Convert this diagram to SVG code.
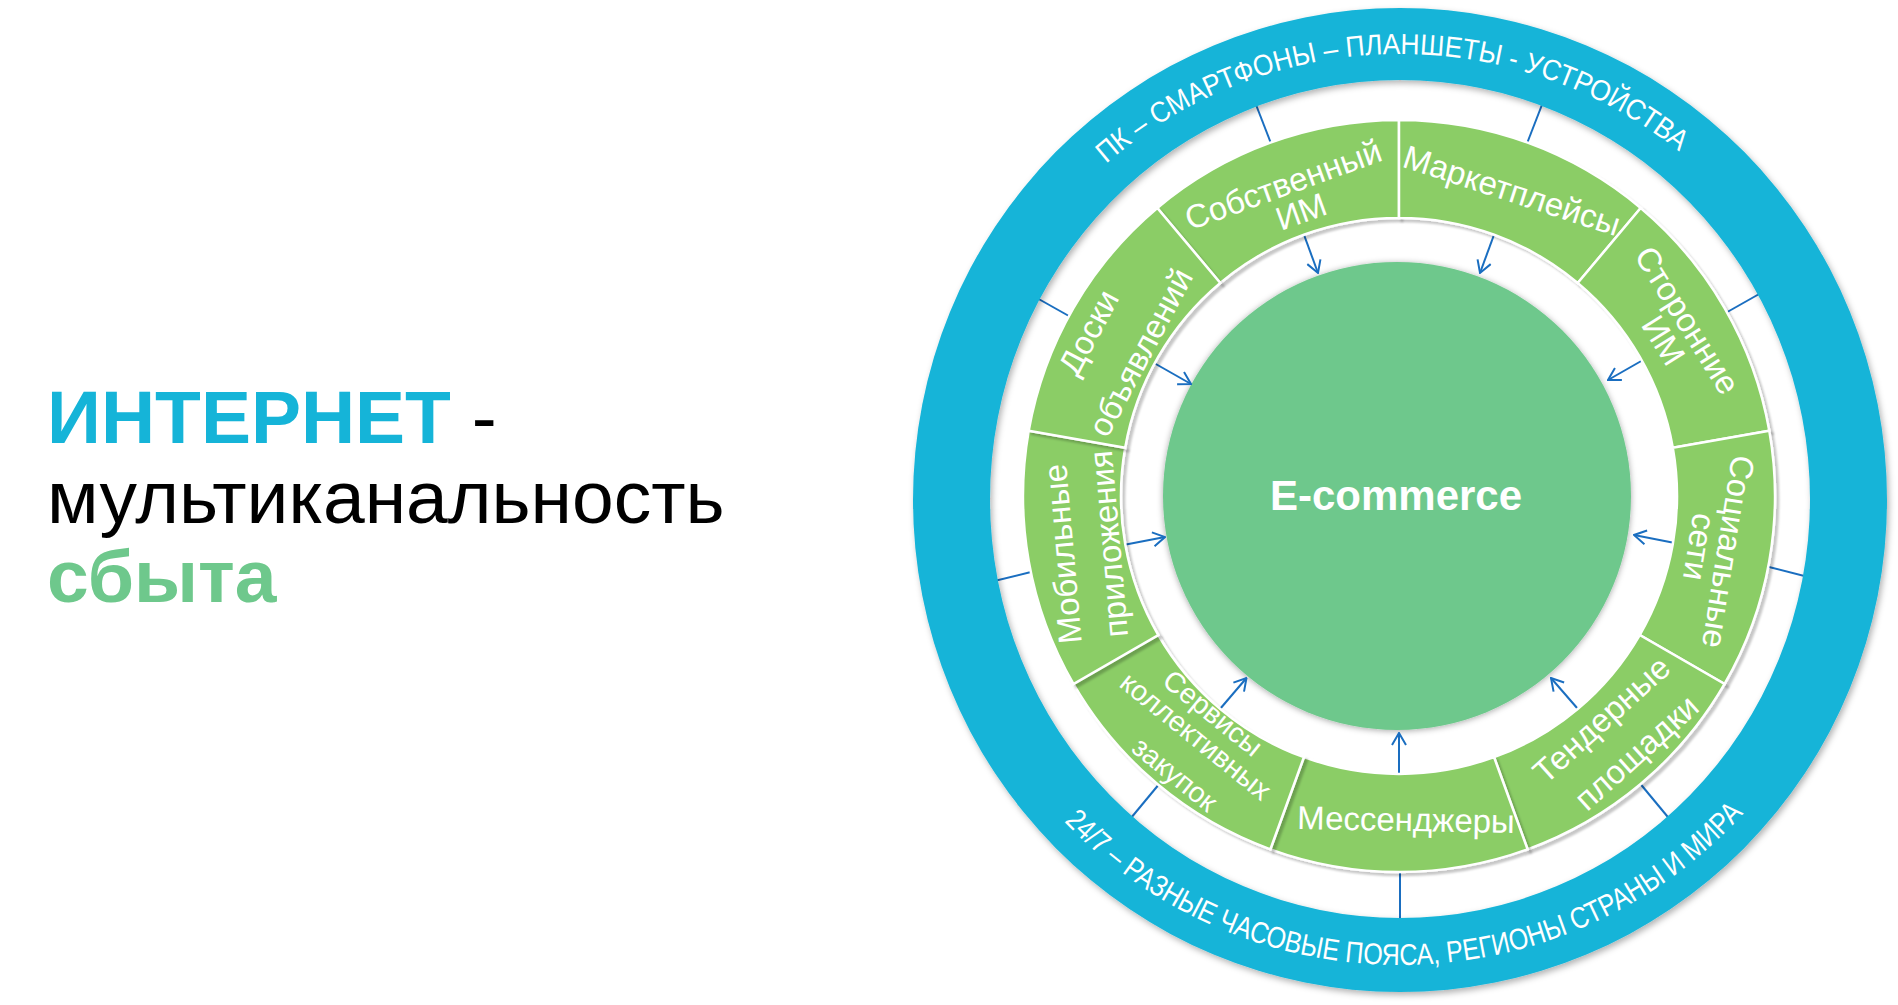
<svg xmlns="http://www.w3.org/2000/svg" width="1898" height="1005" viewBox="0 0 1898 1005">
<defs>
<style>
.title{font-family:"Liberation Sans",Arial,sans-serif;font-size:75px}
.seg{fill:#8bcd66;stroke:#ffffff;stroke-width:2.5;filter:url(#shSeg)}
.lbl{font-family:"Liberation Sans",Arial,sans-serif;font-size:33px;fill:#ffffff;text-anchor:middle}
.lbl.sm{font-size:28.5px}
.ringtxt{font-family:"Liberation Sans",Arial,sans-serif;fill:#ffffff}
.tick,.arrow{stroke:#1a6ec0;stroke-width:2;fill:none}
.arrow{marker-end:url(#arrowhead)}
</style>
<filter id="shRing" x="-10%" y="-10%" width="120%" height="120%">
<feDropShadow dx="2" dy="3" stdDeviation="3" flood-color="#000" flood-opacity="0.3"/>
</filter>
<filter id="shSeg" x="-10%" y="-10%" width="120%" height="120%">
<feDropShadow dx="3" dy="3" stdDeviation="0.8" flood-color="#000" flood-opacity="0.22"/>
</filter>
<filter id="shCirc" x="-10%" y="-10%" width="120%" height="120%">
<feDropShadow dx="0" dy="1" stdDeviation="3" flood-color="#000" flood-opacity="0.35"/>
</filter>
<marker id="arrowhead" viewBox="0 0 14 16" refX="13" refY="8" markerWidth="14" markerHeight="16" markerUnits="userSpaceOnUse" orient="auto">
<path d="M1,1 L13,8 L1,15" fill="none" stroke="#1a6ec0" stroke-width="2"/>
</marker>
<path id="arcTop" d="M 952,502 A 448,448 0 0 1 1848,502"/>
<path id="arcBot" d="M 935,500 A 465,465 0 0 0 1865,500"/>
</defs>

<g id="title">
<text class="title" x="47" y="443"><tspan font-weight="bold" fill="#15b4d8">ИНТЕРНЕТ</tspan><tspan fill="#000"> -</tspan></text>
<text class="title" x="47" y="523" fill="#000">мультиканальность</text>
<text class="title" x="47" y="602" font-weight="bold" fill="#6ec88c">сбыта</text>
</g>

<g id="ecommerce">
<circle cx="1397" cy="496" r="234" fill="#6ec88c" filter="url(#shCirc)"/>
<text x="1396" y="510" font-family="Liberation Sans,Arial,sans-serif" font-size="42" font-weight="bold" fill="#fff" text-anchor="middle">E-commerce</text>
</g>

<g id="connectors">
<line class="tick" x1="1272" y1="146" x2="1253" y2="97"/>
<line class="tick" x1="1526" y1="146" x2="1545" y2="97"/>
<line class="tick" x1="1722" y1="315" x2="1768" y2="289"/>
<line class="tick" x1="1765" y1="566" x2="1820" y2="580"/>
<line class="tick" x1="1638" y1="781" x2="1672" y2="822"/>
<line class="tick" x1="1400" y1="866" x2="1400" y2="925"/>
<line class="tick" x1="1160" y1="783" x2="1126" y2="824"/>
<line class="tick" x1="1035" y1="571" x2="982" y2="584"/>
<line class="tick" x1="1076" y1="320" x2="1028" y2="293"/>
<line class="arrow" x1="1301.5" y1="228" x2="1318" y2="273"/>
<line class="arrow" x1="1496.5" y1="228" x2="1480" y2="273"/>
<line class="arrow" x1="1650" y1="356" x2="1608" y2="380"/>
<line class="arrow" x1="1685" y1="545" x2="1634" y2="535"/>
<line class="arrow" x1="1584" y1="716" x2="1551" y2="678"/>
<line class="arrow" x1="1399" y1="784" x2="1399" y2="733"/>
<line class="arrow" x1="1214" y1="716" x2="1246.5" y2="678"/>
<line class="arrow" x1="1113" y1="547" x2="1165" y2="537"/>
<line class="arrow" x1="1147" y1="359" x2="1191" y2="384"/>
</g>

<g id="ring">
<path d="M 913,500 A 487 492 0 1 0 1887,500 A 487 492 0 1 0 913,500 Z M 990,499 A 410 419 0 1 0 1810,499 A 410 419 0 1 0 990,499 Z" fill="#15b4d8" fill-rule="evenodd" filter="url(#shRing)"/>
<text class="ringtxt" font-size="29"><textPath href="#arcTop" startOffset="694" text-anchor="middle" textLength="622" lengthAdjust="spacingAndGlyphs">ПК – СМАРТФОНЫ – ПЛАНШЕТЫ - УСТРОЙСТВА</textPath></text>
<text class="ringtxt" font-size="30"><textPath href="#arcBot" startOffset="736" text-anchor="middle" textLength="762" lengthAdjust="spacingAndGlyphs">24/7 – РАЗНЫЕ ЧАСОВЫЕ ПОЯСА, РЕГИОНЫ СТРАНЫ И МИРА</textPath></text>
</g>

<g id="seg-own">
<path class="seg" d="M 1157.3,208 A 376 376 0 0 1 1399,120 L 1399,218 A 278 278 0 0 0 1220.3,283 Z"/>
<text class="lbl" transform="translate(1283,184) rotate(-20)" y="12">Собственный</text>
<text class="lbl" transform="translate(1301,211) rotate(-20)" y="12">ИМ</text>
</g>
<g id="seg-market">
<path class="seg" d="M 1399,120 A 376 376 0 0 1 1640.7,208 L 1577.7,283 A 278 278 0 0 0 1399,218 Z"/>
<text class="lbl" transform="translate(1512,190) rotate(18)" y="12">Маркетплейсы</text>
</g>
<g id="seg-third">
<path class="seg" d="M 1640.7,208 A 376 376 0 0 1 1769.3,430.7 L 1672.8,447.7 A 278 278 0 0 0 1577.7,283 Z"/>
<text class="lbl" transform="translate(1688,320) rotate(58)" y="12">Сторонние</text>
<text class="lbl" transform="translate(1664,340) rotate(58)" y="12">ИМ</text>
</g>
<g id="seg-social">
<path class="seg" d="M 1769.3,430.7 A 376 376 0 0 1 1724.6,684 L 1639.7,635 A 278 278 0 0 0 1672.8,447.7 Z"/>
<text class="lbl" transform="translate(1729,552) rotate(99)" y="12">Социальные</text>
<text class="lbl" transform="translate(1700,547) rotate(99)" y="12">сети</text>
</g>
<g id="seg-tender">
<path class="seg" d="M 1724.6,684 A 376 376 0 0 1 1527.6,849.3 L 1494.1,757.2 A 278 278 0 0 0 1639.7,635 Z"/>
<text class="lbl" transform="translate(1601,719) rotate(-42)" y="12">Тендерные</text>
<text class="lbl" transform="translate(1636,752) rotate(-42)" y="12">площадки</text>
</g>
<g id="seg-messengers">
<path class="seg" d="M 1527.6,849.3 A 376 376 0 0 1 1270.4,849.3 L 1303.9,757.2 A 278 278 0 0 0 1494.1,757.2 Z"/>
<text class="lbl" transform="translate(1406,819) rotate(1)" y="12">Мессенджеры</text>
</g>
<g id="seg-group">
<path class="seg" d="M 1270.4,849.3 A 376 376 0 0 1 1073.4,684 L 1158.3,635 A 278 278 0 0 0 1303.9,757.2 Z"/>
<text class="lbl sm" transform="translate(1213,713) rotate(39)" y="10">Сервисы</text>
<text class="lbl sm" transform="translate(1196,736) rotate(39)" y="10">коллективных</text>
<text class="lbl sm" transform="translate(1175,774) rotate(39)" y="10">закупок</text>
</g>
<g id="seg-mobile">
<path class="seg" d="M 1073.4,684 A 376 376 0 0 1 1028.7,430.7 L 1125.2,447.7 A 278 278 0 0 0 1158.3,635 Z"/>
<text class="lbl" transform="translate(1062,554) rotate(-95)" y="12">Мобильные</text>
<text class="lbl" transform="translate(1108,544) rotate(-95)" y="12">приложения</text>
</g>
<g id="seg-boards">
<path class="seg" d="M 1028.7,430.7 A 376 376 0 0 1 1157.3,208 L 1220.3,283 A 278 278 0 0 0 1125.2,447.7 Z"/>
<text class="lbl" transform="translate(1088,332) rotate(-62)" y="12">Доски</text>
<text class="lbl" transform="translate(1140,352) rotate(-62)" y="12">объявлений</text>
</g>
</svg>
